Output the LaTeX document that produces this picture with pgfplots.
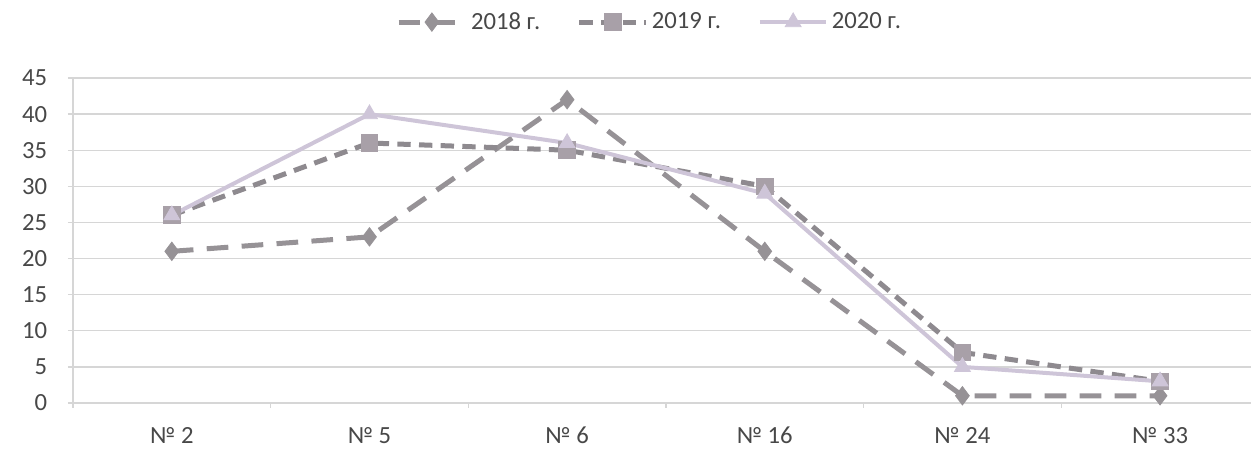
\documentclass[border=0pt]{standalone}
\usepackage{fontspec}
\setmainfont{Carlito}
\usepackage{pgfplots}
\pgfplotsset{compat=1.18}
\definecolor{c18}{HTML}{969296}
\definecolor{c19}{HTML}{8E8A8F}
\definecolor{m19}{HTML}{A8A0A8}
\definecolor{c20}{HTML}{CEC5D8}
\definecolor{gridc}{HTML}{D6D6D6}
\definecolor{txt}{HTML}{484848}
\begin{document}
\begin{tikzpicture}
\useasboundingbox (0pt,0pt) rectangle (750.6pt,269.4pt);
\begin{axis}[
  at={(43.8pt,27.6pt)}, anchor=south west,
  scale only axis, width=706.8pt, height=195pt,
  xmin=-0.5, xmax=5.46, ymin=0, ymax=45,
  axis x line=bottom, axis y line=left,
  axis line style={draw=gridc, line width=0.8pt, -},
  xtick={0,1,2,3,4,5},
  xticklabels={№ 2,№ 5,№ 6,№ 16,№ 24,№ 33},
  minor xtick={-0.5,0.5,1.5,2.5,3.5,4.5},
  ytick={0,5,...,45},
  ymajorgrids, grid style={draw=gridc, line width=0.8pt},
  major x tick style={draw=none},
  minor tick length=3pt, major tick length=3pt,
  tick align=outside,
  tick style={draw=gridc, line width=0.8pt},
  every tick label/.append style={font=\fontsize{14.8}{16}\selectfont, text=txt},
  xticklabel style={yshift=-8pt},
  yticklabel style={xshift=-9pt},
  /pgf/number format/assume math mode=true,
  legend style={at={(0.49,1.172)}, anchor=center, draw=none, fill=none,
    legend columns=3, font=\fontsize{14.8}{16}\selectfont, text=txt,
    /tikz/every even column/.append style={column sep=20pt}},
  legend image code/.code={\draw[mark repeat=2,mark phase=2] plot coordinates {(0pt,0pt) (20pt,0pt) (40pt,0pt)};},
]
\addplot[c18, line width=3pt, dash pattern=on 13pt off 8pt, mark=diamond*, mark size=5.5pt,
  mark options={solid, fill=c18, draw=c18, line width=0.5pt}]
  coordinates {(0,21)(1,23)(2,42)(3,21)(4,1)(5,1)};
\addlegendentry{2018 г.}
\addplot[c19, line width=3pt, dash pattern=on 8pt off 5pt, mark=square*, mark size=5pt,
  mark options={solid, fill=m19, draw=m19, line width=0.5pt}]
  coordinates {(0,26)(1,36)(2,35)(3,30)(4,7)(5,3)};
\addlegendentry{2019 г.}
\addplot[c20, line width=2.4pt, mark=triangle*, mark size=5.5pt,
  mark options={solid, fill=c20, draw=c20, line width=0.5pt}]
  coordinates {(0,26)(1,40)(2,36)(3,29)(4,5)(5,3)};
\addlegendentry{2020 г.}
\end{axis}
\end{tikzpicture}
\end{document}
